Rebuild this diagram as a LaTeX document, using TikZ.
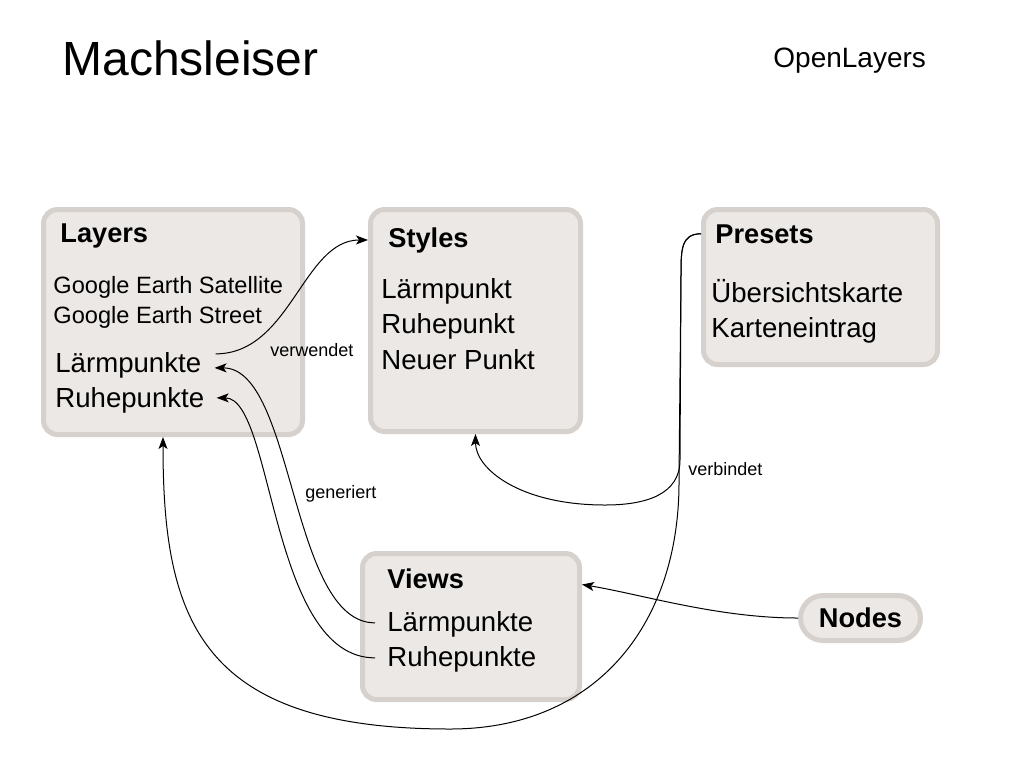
\documentclass[tikz,border=0pt]{standalone}
\usepackage{fontspec}
\setmainfont{Liberation Sans}
\usetikzlibrary{arrows.meta}
\definecolor{boxrand}{RGB}{214,209,204}
\definecolor{boxgrund}{RGB}{235,232,229}

\begin{document}
\begin{tikzpicture}[x=0.5pt,y=-0.5pt,
        box/.style={draw=boxrand, fill=boxgrund, line width=2.5pt, rounded corners=7pt, inner sep=0pt},
        kopf/.style={anchor=base west, inner sep=0pt, font=\bfseries\fontsize{13.6}{16}\selectfont},
        eintrag/.style={anchor=base west, inner sep=0pt, font=\fontsize{13.8}{16}\selectfont},
        klein/.style={anchor=base west, inner sep=0pt, font=\fontsize{11.8}{14}\selectfont},
        notiz/.style={anchor=base west, inner sep=0pt, font=\fontsize{9}{11}\selectfont},
        pfeil/.style={-{Stealth[length=6pt,width=4.5pt,inset=1.5pt]}, line width=0.5pt}]
        \useasboundingbox (0,0) rectangle (1024,768);

        % Titel
        \node[anchor=base west, inner sep=0pt, font=\fontsize{24}{29}\selectfont] (titel) at (62,75) {Machsleiser};
        \node[anchor=base west, inner sep=0pt, font=\fontsize{14}{17}\selectfont] (ol) at (773,67) {OpenLayers};

        % Layers
        \node[box, minimum width=129.5pt, minimum height=112.5pt] (ly) at (173,322) {};
        \node[kopf] (lyk) at (60,242) {Layers};
        \node[klein] (lg1) at (53,293) {Google Earth Satellite};
        \node[klein] (lg2) at (53,323) {Google Earth Street};
        \node[eintrag] (ll1) at (55,372) {Lärmpunkte};
        \node[eintrag] (ll2) at (55,407) {Ruhepunkte};

        % Styles
        \node[box, minimum width=105pt, minimum height=111pt] (st) at (475.5,320.5) {};
        \node[kopf] (stk) at (388,247) {Styles};
        \node[eintrag] (st1) at (381,298) {Lärmpunkt};
        \node[eintrag] (st2) at (381,333) {Ruhepunkt};
        \node[eintrag] (st3) at (381,369) {Neuer Punkt};

        % Presets
        \node[box, minimum width=117pt, minimum height=77.5pt] (pr) at (820.5,287) {};
        \node[kopf] (prk) at (715,243) {Presets};
        \node[eintrag] (pr1) at (711,302) {Übersichtskarte};
        \node[eintrag] (pr2) at (711,337) {Karteneintrag};

        % Views
        \node[box, minimum width=108.5pt, minimum height=73pt] (vw) at (471,626.5) {};
        \node[kopf] (vwk) at (387,588) {Views};
        \node[eintrag] (vl1) at (387,631) {Lärmpunkte};
        \node[eintrag] (vl2) at (387,666) {Ruhepunkte};

        % Nodes
        \node[box, rounded corners=11.25pt, minimum width=60pt, minimum height=22.5pt,
              font=\bfseries\fontsize{13.6}{16}\selectfont] (nd) at (860.5,618) {Nodes};

        % Verbindungen
        \draw[pfeil] ([shift={(14,-11)}]ll1.east) .. controls +(75,0) and +(-65,0) .. (st.west |- stk.west);
        \node[notiz] (verw) at (270,356) {verwendet};

        \draw[pfeil] ([shift={(-12,-1)}]vl1.west) .. controls +(-85,0) and +(80,0) .. ([shift={(13,3)}]ll1.east);
        \draw[pfeil] ([shift={(-12,-1)}]vl2.west) .. controls +(-105,0) and +(57,0) .. ([shift={(12,-2)}]ll2.east);
        \node[notiz] (gen) at (305,498) {generiert};

        \draw[pfeil] (pr.west |- prk.west) .. controls +(-20,0) and +(0,-25) .. (681,275) -- (680,460)
            .. controls +(0,35) and +(40,0) .. (605,505) .. controls +(-85,0) and +(0,35) .. (st.south);
        \draw[pfeil] (pr.west |- prk.west) .. controls +(-20,0) and +(0,-25) .. (681,275) -- (679,480)
            .. controls (680,620) and (600,729) .. (450,729) .. controls (200,729) and (163,620) .. ([xshift=-5pt]ly.south);
        \node[notiz] (verb) at (688,475) {verbindet};

        \draw[pfeil] (nd.west) .. controls +(-80,0) and +(60,10) .. ([shift={(0,-42)}]vw.east);
    \end{tikzpicture}
\end{document}
